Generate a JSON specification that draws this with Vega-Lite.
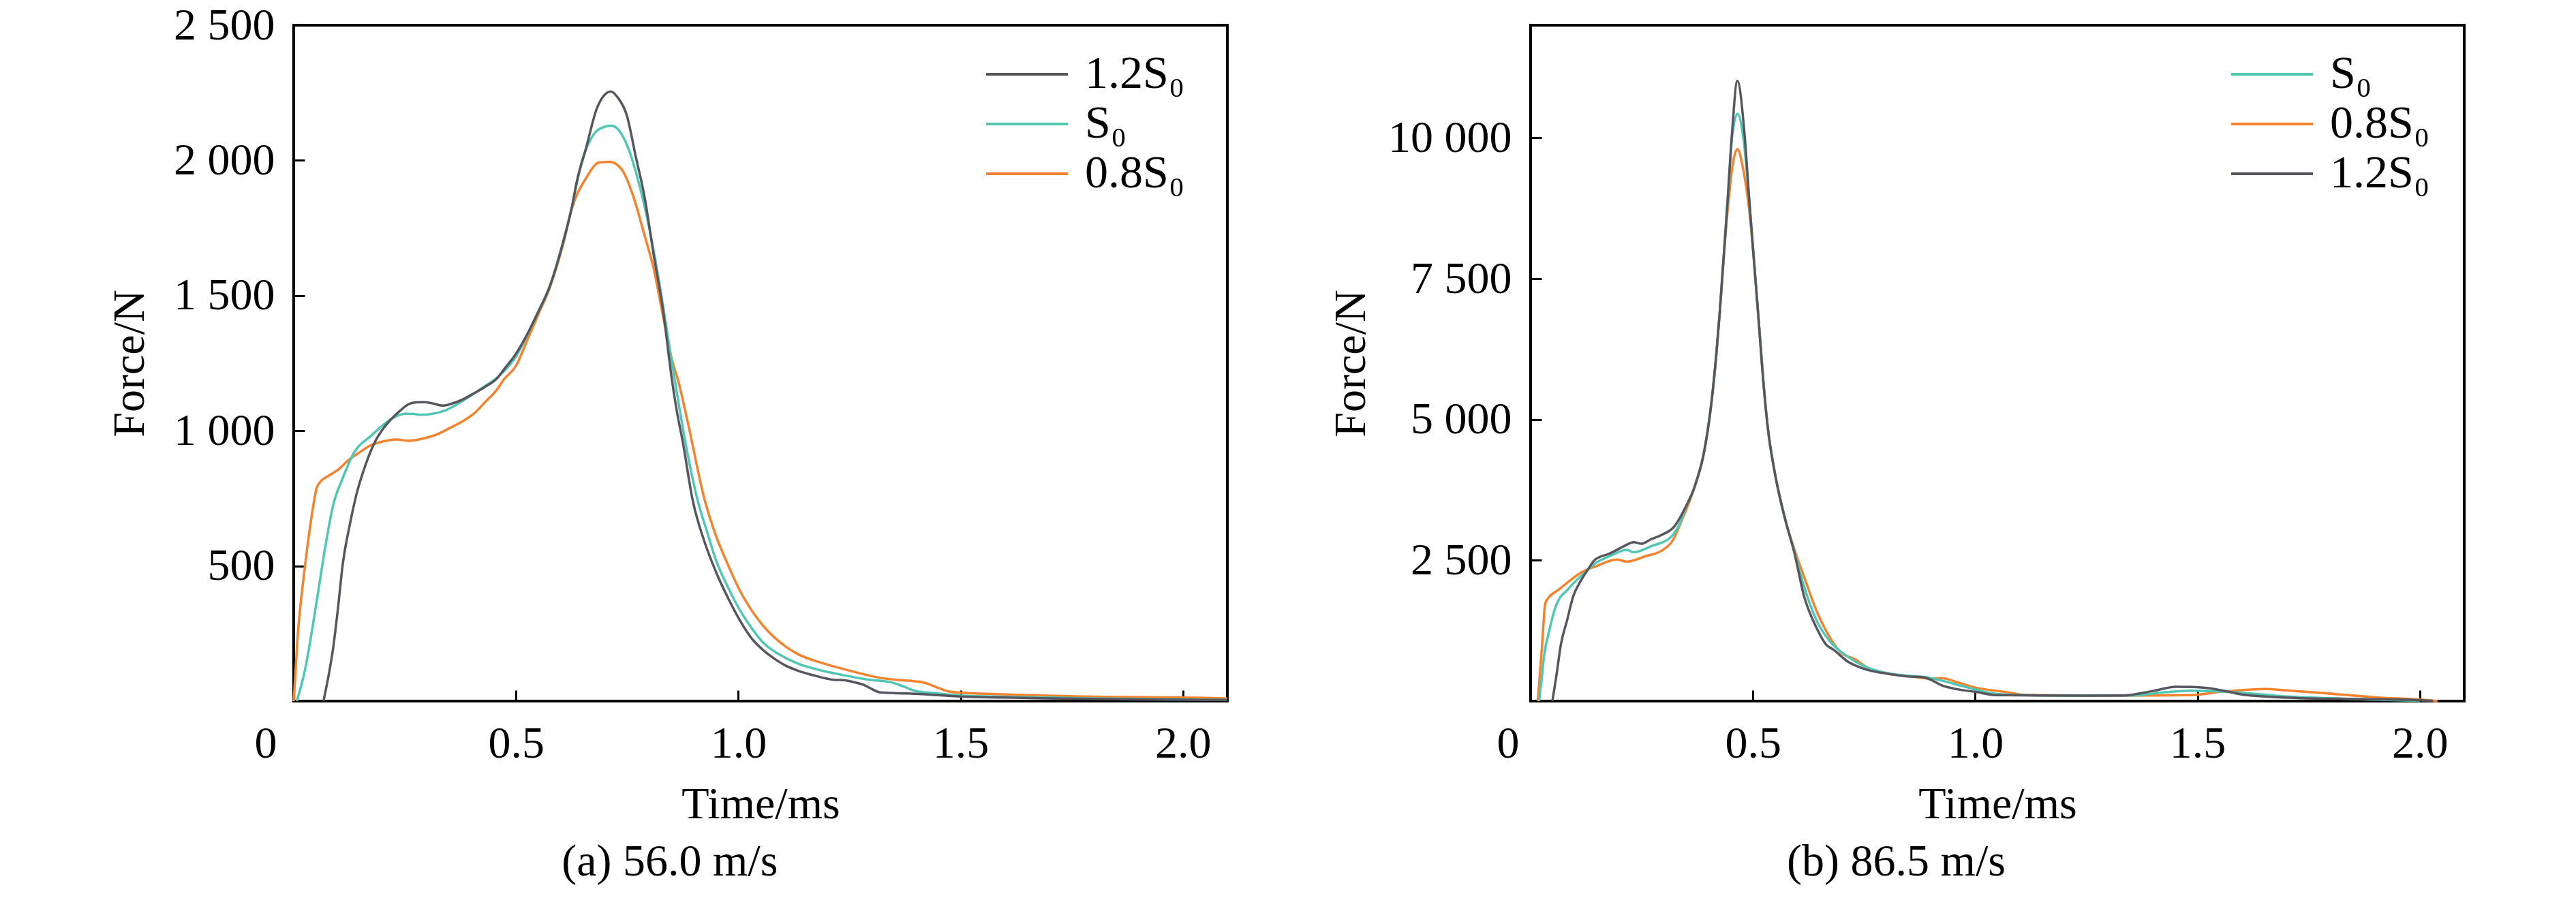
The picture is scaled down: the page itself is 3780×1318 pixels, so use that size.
{
  "$schema": "https://vega.github.io/schema/vega-lite/v6.json",
  "background": "#ffffff",
  "padding": {"left": 155, "top": 2, "right": 0, "bottom": 0},
  "spacing": 137,
  "config": {
    "font": "Liberation Serif",
    "view": {"stroke": "#000000", "strokeWidth": 4},
    "axis": {
      "domain": false,
      "grid": false,
      "ticks": true,
      "tickSize": -16,
      "tickWidth": 3,
      "tickColor": "#000000",
      "labelFont": "Liberation Serif",
      "labelFontSize": 66,
      "labelColor": "#000000",
      "labelLimit": 400,
      "titleFont": "Liberation Serif",
      "titleFontSize": 66,
      "titleFontWeight": "normal",
      "titleColor": "#000000"
    },
    "legend": {
      "orient": "none",
      "title": null,
      "symbolType": "M-1,0H5",
      "symbolSize": 1600,
      "symbolStrokeWidth": 4,
      "labelFont": "Liberation Serif",
      "labelFontSize": 68,
      "labelColor": "#000000",
      "labelOffset": 91,
      "rowPadding": 5,
      "padding": 0
    },
    "title": {
      "orient": "bottom",
      "anchor": "middle",
      "frame": "bounds",
      "font": "Liberation Serif",
      "fontSize": 66,
      "fontWeight": "normal",
      "color": "#000000",
      "offset": 20
    }
  },
  "datasets": {
    "a": [
      {"c": "0.8S₀", "t": 0, "F": 0}, {"c": "0.8S₀", "t": 0.008, "F": 220}, {"c": "0.8S₀", "t": 0.025, "F": 495}, {"c": "0.8S₀", "t": 0.04, "F": 680}, {"c": "0.8S₀", "t": 0.052, "F": 790}, {"c": "0.8S₀", "t": 0.058, "F": 807}, {"c": "0.8S₀", "t": 0.08, "F": 835}, {"c": "0.8S₀", "t": 0.099, "F": 855}, {"c": "0.8S₀", "t": 0.125, "F": 894}, {"c": "0.8S₀", "t": 0.15, "F": 922}, {"c": "0.8S₀", "t": 0.173, "F": 946}, {"c": "0.8S₀", "t": 0.2, "F": 960}, {"c": "0.8S₀", "t": 0.231, "F": 968}, {"c": "0.8S₀", "t": 0.257, "F": 963}, {"c": "0.8S₀", "t": 0.294, "F": 972}, {"c": "0.8S₀", "t": 0.32, "F": 985}, {"c": "0.8S₀", "t": 0.352, "F": 1011}, {"c": "0.8S₀", "t": 0.38, "F": 1035}, {"c": "0.8S₀", "t": 0.405, "F": 1063}, {"c": "0.8S₀", "t": 0.43, "F": 1105}, {"c": "0.8S₀", "t": 0.458, "F": 1154}, {"c": "0.8S₀", "t": 0.473, "F": 1190}, {"c": "0.8S₀", "t": 0.5, "F": 1240}, {"c": "0.8S₀", "t": 0.524, "F": 1330}, {"c": "0.8S₀", "t": 0.55, "F": 1430}, {"c": "0.8S₀", "t": 0.575, "F": 1525}, {"c": "0.8S₀", "t": 0.606, "F": 1690}, {"c": "0.8S₀", "t": 0.626, "F": 1824}, {"c": "0.8S₀", "t": 0.657, "F": 1933}, {"c": "0.8S₀", "t": 0.687, "F": 1992}, {"c": "0.8S₀", "t": 0.711, "F": 1995}, {"c": "0.8S₀", "t": 0.738, "F": 1966}, {"c": "0.8S₀", "t": 0.764, "F": 1866}, {"c": "0.8S₀", "t": 0.789, "F": 1723}, {"c": "0.8S₀", "t": 0.81, "F": 1597}, {"c": "0.8S₀", "t": 0.83, "F": 1429}, {"c": "0.8S₀", "t": 0.851, "F": 1261}, {"c": "0.8S₀", "t": 0.866, "F": 1177}, {"c": "0.8S₀", "t": 0.887, "F": 1026}, {"c": "0.8S₀", "t": 0.924, "F": 746}, {"c": "0.8S₀", "t": 0.95, "F": 610}, {"c": "0.8S₀", "t": 0.977, "F": 503}, {"c": "0.8S₀", "t": 1.003, "F": 410}, {"c": "0.8S₀", "t": 1.029, "F": 338}, {"c": "0.8S₀", "t": 1.055, "F": 280}, {"c": "0.8S₀", "t": 1.082, "F": 234}, {"c": "0.8S₀", "t": 1.108, "F": 200}, {"c": "0.8S₀", "t": 1.135, "F": 173}, {"c": "0.8S₀", "t": 1.19, "F": 140}, {"c": "0.8S₀", "t": 1.24, "F": 117}, {"c": "0.8S₀", "t": 1.28, "F": 100}, {"c": "0.8S₀", "t": 1.319, "F": 86}, {"c": "0.8S₀", "t": 1.36, "F": 78}, {"c": "0.8S₀", "t": 1.398, "F": 73}, {"c": "0.8S₀", "t": 1.418, "F": 68}, {"c": "0.8S₀", "t": 1.445, "F": 52}, {"c": "0.8S₀", "t": 1.472, "F": 36}, {"c": "0.8S₀", "t": 1.51, "F": 30}, {"c": "0.8S₀", "t": 1.556, "F": 27}, {"c": "0.8S₀", "t": 1.65, "F": 22}, {"c": "0.8S₀", "t": 1.75, "F": 18}, {"c": "0.8S₀", "t": 1.85, "F": 15}, {"c": "0.8S₀", "t": 1.95, "F": 14}, {"c": "0.8S₀", "t": 2.05, "F": 12}, {"c": "0.8S₀", "t": 2.1, "F": 10},
      {"c": "S₀", "t": 0.007, "F": 0}, {"c": "S₀", "t": 0.025, "F": 113}, {"c": "S₀", "t": 0.052, "F": 373}, {"c": "S₀", "t": 0.073, "F": 590}, {"c": "S₀", "t": 0.088, "F": 720}, {"c": "S₀", "t": 0.11, "F": 824}, {"c": "S₀", "t": 0.136, "F": 920}, {"c": "S₀", "t": 0.173, "F": 980}, {"c": "S₀", "t": 0.2, "F": 1020}, {"c": "S₀", "t": 0.226, "F": 1050}, {"c": "S₀", "t": 0.252, "F": 1063}, {"c": "S₀", "t": 0.27, "F": 1062}, {"c": "S₀", "t": 0.289, "F": 1059}, {"c": "S₀", "t": 0.31, "F": 1062}, {"c": "S₀", "t": 0.342, "F": 1076}, {"c": "S₀", "t": 0.37, "F": 1100}, {"c": "S₀", "t": 0.405, "F": 1137}, {"c": "S₀", "t": 0.43, "F": 1165}, {"c": "S₀", "t": 0.458, "F": 1197}, {"c": "S₀", "t": 0.473, "F": 1220}, {"c": "S₀", "t": 0.5, "F": 1275}, {"c": "S₀", "t": 0.524, "F": 1350}, {"c": "S₀", "t": 0.55, "F": 1440}, {"c": "S₀", "t": 0.575, "F": 1530}, {"c": "S₀", "t": 0.606, "F": 1698}, {"c": "S₀", "t": 0.626, "F": 1830}, {"c": "S₀", "t": 0.646, "F": 1983}, {"c": "S₀", "t": 0.677, "F": 2101}, {"c": "S₀", "t": 0.695, "F": 2122}, {"c": "S₀", "t": 0.715, "F": 2128}, {"c": "S₀", "t": 0.749, "F": 2059}, {"c": "S₀", "t": 0.779, "F": 1899}, {"c": "S₀", "t": 0.8, "F": 1748}, {"c": "S₀", "t": 0.83, "F": 1470}, {"c": "S₀", "t": 0.85, "F": 1258}, {"c": "S₀", "t": 0.871, "F": 1049}, {"c": "S₀", "t": 0.89, "F": 880}, {"c": "S₀", "t": 0.908, "F": 746}, {"c": "S₀", "t": 0.93, "F": 625}, {"c": "S₀", "t": 0.95, "F": 520}, {"c": "S₀", "t": 0.977, "F": 420}, {"c": "S₀", "t": 1.003, "F": 338}, {"c": "S₀", "t": 1.03, "F": 270}, {"c": "S₀", "t": 1.056, "F": 216}, {"c": "S₀", "t": 1.095, "F": 170}, {"c": "S₀", "t": 1.135, "F": 138}, {"c": "S₀", "t": 1.19, "F": 112}, {"c": "S₀", "t": 1.24, "F": 95}, {"c": "S₀", "t": 1.29, "F": 80}, {"c": "S₀", "t": 1.345, "F": 69}, {"c": "S₀", "t": 1.37, "F": 55}, {"c": "S₀", "t": 1.398, "F": 38}, {"c": "S₀", "t": 1.45, "F": 28}, {"c": "S₀", "t": 1.498, "F": 21}, {"c": "S₀", "t": 1.6, "F": 16}, {"c": "S₀", "t": 1.7, "F": 13}, {"c": "S₀", "t": 1.8, "F": 10}, {"c": "S₀", "t": 1.9, "F": 8}, {"c": "S₀", "t": 2.0, "F": 6}, {"c": "S₀", "t": 2.1, "F": 5},
      {"c": "1.2S₀", "t": 0.067, "F": 0}, {"c": "1.2S₀", "t": 0.079, "F": 100}, {"c": "1.2S₀", "t": 0.089, "F": 200}, {"c": "1.2S₀", "t": 0.1, "F": 350}, {"c": "1.2S₀", "t": 0.11, "F": 503}, {"c": "1.2S₀", "t": 0.126, "F": 651}, {"c": "1.2S₀", "t": 0.141, "F": 764}, {"c": "1.2S₀", "t": 0.162, "F": 876}, {"c": "1.2S₀", "t": 0.184, "F": 963}, {"c": "1.2S₀", "t": 0.2, "F": 1005}, {"c": "1.2S₀", "t": 0.22, "F": 1044}, {"c": "1.2S₀", "t": 0.24, "F": 1075}, {"c": "1.2S₀", "t": 0.257, "F": 1097}, {"c": "1.2S₀", "t": 0.275, "F": 1105}, {"c": "1.2S₀", "t": 0.294, "F": 1106}, {"c": "1.2S₀", "t": 0.315, "F": 1100}, {"c": "1.2S₀", "t": 0.336, "F": 1093}, {"c": "1.2S₀", "t": 0.355, "F": 1100}, {"c": "1.2S₀", "t": 0.379, "F": 1115}, {"c": "1.2S₀", "t": 0.405, "F": 1138}, {"c": "1.2S₀", "t": 0.431, "F": 1163}, {"c": "1.2S₀", "t": 0.458, "F": 1195}, {"c": "1.2S₀", "t": 0.473, "F": 1227}, {"c": "1.2S₀", "t": 0.5, "F": 1285}, {"c": "1.2S₀", "t": 0.524, "F": 1353}, {"c": "1.2S₀", "t": 0.55, "F": 1440}, {"c": "1.2S₀", "t": 0.575, "F": 1530}, {"c": "1.2S₀", "t": 0.606, "F": 1698}, {"c": "1.2S₀", "t": 0.626, "F": 1830}, {"c": "1.2S₀", "t": 0.636, "F": 1916}, {"c": "1.2S₀", "t": 0.657, "F": 2042}, {"c": "1.2S₀", "t": 0.682, "F": 2193}, {"c": "1.2S₀", "t": 0.698, "F": 2240}, {"c": "1.2S₀", "t": 0.713, "F": 2255}, {"c": "1.2S₀", "t": 0.73, "F": 2230}, {"c": "1.2S₀", "t": 0.749, "F": 2168}, {"c": "1.2S₀", "t": 0.769, "F": 2017}, {"c": "1.2S₀", "t": 0.789, "F": 1866}, {"c": "1.2S₀", "t": 0.81, "F": 1647}, {"c": "1.2S₀", "t": 0.83, "F": 1454}, {"c": "1.2S₀", "t": 0.851, "F": 1185}, {"c": "1.2S₀", "t": 0.862, "F": 1070}, {"c": "1.2S₀", "t": 0.875, "F": 960}, {"c": "1.2S₀", "t": 0.897, "F": 746}, {"c": "1.2S₀", "t": 0.924, "F": 589}, {"c": "1.2S₀", "t": 0.95, "F": 477}, {"c": "1.2S₀", "t": 0.977, "F": 381}, {"c": "1.2S₀", "t": 1.003, "F": 300}, {"c": "1.2S₀", "t": 1.029, "F": 234}, {"c": "1.2S₀", "t": 1.055, "F": 190}, {"c": "1.2S₀", "t": 1.082, "F": 156}, {"c": "1.2S₀", "t": 1.108, "F": 130}, {"c": "1.2S₀", "t": 1.135, "F": 112}, {"c": "1.2S₀", "t": 1.17, "F": 95}, {"c": "1.2S₀", "t": 1.214, "F": 79}, {"c": "1.2S₀", "t": 1.24, "F": 77}, {"c": "1.2S₀", "t": 1.26, "F": 70}, {"c": "1.2S₀", "t": 1.282, "F": 60}, {"c": "1.2S₀", "t": 1.3, "F": 45}, {"c": "1.2S₀", "t": 1.319, "F": 32}, {"c": "1.2S₀", "t": 1.36, "F": 29}, {"c": "1.2S₀", "t": 1.398, "F": 27}, {"c": "1.2S₀", "t": 1.45, "F": 22}, {"c": "1.2S₀", "t": 1.498, "F": 17}, {"c": "1.2S₀", "t": 1.6, "F": 13}, {"c": "1.2S₀", "t": 1.7, "F": 10}, {"c": "1.2S₀", "t": 1.8, "F": 8}, {"c": "1.2S₀", "t": 1.9, "F": 6}, {"c": "1.2S₀", "t": 2.0, "F": 5}, {"c": "1.2S₀", "t": 2.1, "F": 4}
    ],
    "b": [
      {"c": "0.8S₀", "t": 0.016, "F": 0}, {"c": "0.8S₀", "t": 0.025, "F": 900}, {"c": "0.8S₀", "t": 0.033, "F": 1734}, {"c": "0.8S₀", "t": 0.041, "F": 1843}, {"c": "0.8S₀", "t": 0.06, "F": 1960}, {"c": "0.8S₀", "t": 0.079, "F": 2080}, {"c": "0.8S₀", "t": 0.112, "F": 2275}, {"c": "0.8S₀", "t": 0.15, "F": 2404}, {"c": "0.8S₀", "t": 0.194, "F": 2512}, {"c": "0.8S₀", "t": 0.216, "F": 2477}, {"c": "0.8S₀", "t": 0.26, "F": 2577}, {"c": "0.8S₀", "t": 0.293, "F": 2663}, {"c": "0.8S₀", "t": 0.32, "F": 2857}, {"c": "0.8S₀", "t": 0.342, "F": 3246}, {"c": "0.8S₀", "t": 0.369, "F": 3808}, {"c": "0.8S₀", "t": 0.391, "F": 4456}, {"c": "0.8S₀", "t": 0.407, "F": 5320}, {"c": "0.8S₀", "t": 0.418, "F": 6184}, {"c": "0.8S₀", "t": 0.425, "F": 6858}, {"c": "0.8S₀", "t": 0.443, "F": 8700}, {"c": "0.8S₀", "t": 0.454, "F": 9500}, {"c": "0.8S₀", "t": 0.465, "F": 9800}, {"c": "0.8S₀", "t": 0.478, "F": 9450}, {"c": "0.8S₀", "t": 0.492, "F": 8700}, {"c": "0.8S₀", "t": 0.512, "F": 6858}, {"c": "0.8S₀", "t": 0.525, "F": 5536}, {"c": "0.8S₀", "t": 0.533, "F": 4888}, {"c": "0.8S₀", "t": 0.55, "F": 4024}, {"c": "0.8S₀", "t": 0.572, "F": 3246}, {"c": "0.8S₀", "t": 0.593, "F": 2700}, {"c": "0.8S₀", "t": 0.615, "F": 2210}, {"c": "0.8S₀", "t": 0.643, "F": 1605}, {"c": "0.8S₀", "t": 0.67, "F": 1173}, {"c": "0.8S₀", "t": 0.697, "F": 871}, {"c": "0.8S₀", "t": 0.73, "F": 741}, {"c": "0.8S₀", "t": 0.763, "F": 568}, {"c": "0.8S₀", "t": 0.8, "F": 490}, {"c": "0.8S₀", "t": 0.85, "F": 445}, {"c": "0.8S₀", "t": 0.9, "F": 400}, {"c": "0.8S₀", "t": 0.923, "F": 407}, {"c": "0.8S₀", "t": 0.964, "F": 323}, {"c": "0.8S₀", "t": 1.0, "F": 240}, {"c": "0.8S₀", "t": 1.065, "F": 165}, {"c": "0.8S₀", "t": 1.12, "F": 105}, {"c": "0.8S₀", "t": 1.25, "F": 98}, {"c": "0.8S₀", "t": 1.4, "F": 100}, {"c": "0.8S₀", "t": 1.485, "F": 105}, {"c": "0.8S₀", "t": 1.553, "F": 165}, {"c": "0.8S₀", "t": 1.653, "F": 214}, {"c": "0.8S₀", "t": 1.7, "F": 190}, {"c": "0.8S₀", "t": 1.779, "F": 145}, {"c": "0.8S₀", "t": 1.905, "F": 65}, {"c": "0.8S₀", "t": 2.006, "F": 24}, {"c": "0.8S₀", "t": 2.04, "F": 0},
      {"c": "S₀", "t": 0.019, "F": 0}, {"c": "S₀", "t": 0.025, "F": 400}, {"c": "S₀", "t": 0.03, "F": 785}, {"c": "S₀", "t": 0.041, "F": 1217}, {"c": "S₀", "t": 0.057, "F": 1692}, {"c": "S₀", "t": 0.085, "F": 1994}, {"c": "S₀", "t": 0.118, "F": 2253}, {"c": "S₀", "t": 0.15, "F": 2469}, {"c": "S₀", "t": 0.18, "F": 2580}, {"c": "S₀", "t": 0.216, "F": 2685}, {"c": "S₀", "t": 0.231, "F": 2642}, {"c": "S₀", "t": 0.271, "F": 2750}, {"c": "S₀", "t": 0.314, "F": 2901}, {"c": "S₀", "t": 0.336, "F": 3160}, {"c": "S₀", "t": 0.347, "F": 3400}, {"c": "S₀", "t": 0.369, "F": 3808}, {"c": "S₀", "t": 0.391, "F": 4456}, {"c": "S₀", "t": 0.407, "F": 5320}, {"c": "S₀", "t": 0.418, "F": 6184}, {"c": "S₀", "t": 0.425, "F": 6858}, {"c": "S₀", "t": 0.443, "F": 8874}, {"c": "S₀", "t": 0.453, "F": 10000}, {"c": "S₀", "t": 0.465, "F": 10426}, {"c": "S₀", "t": 0.48, "F": 9900}, {"c": "S₀", "t": 0.492, "F": 8874}, {"c": "S₀", "t": 0.512, "F": 6858}, {"c": "S₀", "t": 0.525, "F": 5536}, {"c": "S₀", "t": 0.533, "F": 4888}, {"c": "S₀", "t": 0.55, "F": 4024}, {"c": "S₀", "t": 0.572, "F": 3246}, {"c": "S₀", "t": 0.593, "F": 2660}, {"c": "S₀", "t": 0.615, "F": 2037}, {"c": "S₀", "t": 0.643, "F": 1432}, {"c": "S₀", "t": 0.675, "F": 1044}, {"c": "S₀", "t": 0.714, "F": 785}, {"c": "S₀", "t": 0.752, "F": 612}, {"c": "S₀", "t": 0.8, "F": 500}, {"c": "S₀", "t": 0.85, "F": 450}, {"c": "S₀", "t": 0.9, "F": 410}, {"c": "S₀", "t": 0.923, "F": 367}, {"c": "S₀", "t": 0.981, "F": 246}, {"c": "S₀", "t": 1.03, "F": 150}, {"c": "S₀", "t": 1.065, "F": 117}, {"c": "S₀", "t": 1.15, "F": 100}, {"c": "S₀", "t": 1.25, "F": 98}, {"c": "S₀", "t": 1.35, "F": 100}, {"c": "S₀", "t": 1.42, "F": 150}, {"c": "S₀", "t": 1.485, "F": 185}, {"c": "S₀", "t": 1.569, "F": 165}, {"c": "S₀", "t": 1.695, "F": 85}, {"c": "S₀", "t": 1.8, "F": 50}, {"c": "S₀", "t": 1.905, "F": 24}, {"c": "S₀", "t": 2.0, "F": 5},
      {"c": "1.2S₀", "t": 0.049, "F": 0}, {"c": "1.2S₀", "t": 0.058, "F": 450}, {"c": "1.2S₀", "t": 0.068, "F": 1000}, {"c": "1.2S₀", "t": 0.082, "F": 1432}, {"c": "1.2S₀", "t": 0.096, "F": 1864}, {"c": "1.2S₀", "t": 0.112, "F": 2124}, {"c": "1.2S₀", "t": 0.13, "F": 2350}, {"c": "1.2S₀", "t": 0.145, "F": 2512}, {"c": "1.2S₀", "t": 0.178, "F": 2620}, {"c": "1.2S₀", "t": 0.21, "F": 2750}, {"c": "1.2S₀", "t": 0.232, "F": 2823}, {"c": "1.2S₀", "t": 0.249, "F": 2793}, {"c": "1.2S₀", "t": 0.27, "F": 2870}, {"c": "1.2S₀", "t": 0.293, "F": 2944}, {"c": "1.2S₀", "t": 0.325, "F": 3117}, {"c": "1.2S₀", "t": 0.347, "F": 3420}, {"c": "1.2S₀", "t": 0.369, "F": 3808}, {"c": "1.2S₀", "t": 0.391, "F": 4456}, {"c": "1.2S₀", "t": 0.407, "F": 5320}, {"c": "1.2S₀", "t": 0.418, "F": 6184}, {"c": "1.2S₀", "t": 0.425, "F": 6858}, {"c": "1.2S₀", "t": 0.443, "F": 8874}, {"c": "1.2S₀", "t": 0.453, "F": 10083}, {"c": "1.2S₀", "t": 0.465, "F": 11010}, {"c": "1.2S₀", "t": 0.481, "F": 10083}, {"c": "1.2S₀", "t": 0.492, "F": 8874}, {"c": "1.2S₀", "t": 0.512, "F": 6858}, {"c": "1.2S₀", "t": 0.525, "F": 5536}, {"c": "1.2S₀", "t": 0.533, "F": 4888}, {"c": "1.2S₀", "t": 0.55, "F": 4024}, {"c": "1.2S₀", "t": 0.572, "F": 3246}, {"c": "1.2S₀", "t": 0.593, "F": 2642}, {"c": "1.2S₀", "t": 0.615, "F": 1864}, {"c": "1.2S₀", "t": 0.643, "F": 1303}, {"c": "1.2S₀", "t": 0.665, "F": 1000}, {"c": "1.2S₀", "t": 0.681, "F": 914}, {"c": "1.2S₀", "t": 0.714, "F": 698}, {"c": "1.2S₀", "t": 0.752, "F": 568}, {"c": "1.2S₀", "t": 0.807, "F": 482}, {"c": "1.2S₀", "t": 0.844, "F": 440}, {"c": "1.2S₀", "t": 0.881, "F": 427}, {"c": "1.2S₀", "t": 0.9, "F": 380}, {"c": "1.2S₀", "t": 0.923, "F": 286}, {"c": "1.2S₀", "t": 0.96, "F": 210}, {"c": "1.2S₀", "t": 1.0, "F": 165}, {"c": "1.2S₀", "t": 1.049, "F": 105}, {"c": "1.2S₀", "t": 1.15, "F": 100}, {"c": "1.2S₀", "t": 1.25, "F": 98}, {"c": "1.2S₀", "t": 1.334, "F": 100}, {"c": "1.2S₀", "t": 1.4, "F": 180}, {"c": "1.2S₀", "t": 1.452, "F": 254}, {"c": "1.2S₀", "t": 1.49, "F": 250}, {"c": "1.2S₀", "t": 1.528, "F": 226}, {"c": "1.2S₀", "t": 1.57, "F": 165}, {"c": "1.2S₀", "t": 1.611, "F": 105}, {"c": "1.2S₀", "t": 1.737, "F": 52}, {"c": "1.2S₀", "t": 1.85, "F": 38}, {"c": "1.2S₀", "t": 1.973, "F": 24}, {"c": "1.2S₀", "t": 2.03, "F": 5}
    ]
  },
  "resolve": {"scale": {"color": "independent", "x": "independent", "y": "independent"}, "legend": {"color": "independent"}},
  "hconcat": [
    {
      "width": 1370,
      "height": 992,
      "title": {"text": "(a) 56.0 m/s"},
      "data": {"name": "a"},
      "mark": {"type": "line", "strokeWidth": 3.5, "interpolate": "monotone"},
      "encoding": {
        "x": {
          "field": "t",
          "type": "quantitative",
          "scale": {"domain": [0, 2.1], "nice": false, "zero": false},
          "axis": {
            "title": "Time/ms",
            "values": [0, 0.5, 1, 1.5, 2],
            "labelExpr": "datum.value == 0 ? '0' : format(datum.value, '.1f')",
            "labelOffset": {"condition": {"test": "datum.value == 0", "value": -58}, "value": 0},
            "labelPadding": 46,
            "titlePadding": 24
          }
        },
        "y": {
          "field": "F",
          "type": "quantitative",
          "scale": {"domain": [0, 2500], "nice": false},
          "axis": {
            "title": "Force/N",
            "values": [500, 1000, 1500, 2000, 2500],
            "labelExpr": "replace(format(datum.value, ','), ',', ' ')",
            "labelPadding": 44,
            "titlePadding": 30
          }
        },
        "color": {
          "field": "c",
          "type": "nominal",
          "scale": {"domain": ["1.2S₀", "S₀", "0.8S₀"], "range": ["#56565e", "#4fc7b4", "#f5822c"]},
          "legend": {"legendX": 1002, "legendY": 38}
        }
      }
    },
    {
      "width": 1370,
      "height": 992,
      "title": {"text": "(b) 86.5 m/s"},
      "data": {"name": "b"},
      "mark": {"type": "line", "strokeWidth": 3.5, "interpolate": "monotone"},
      "encoding": {
        "x": {
          "field": "t",
          "type": "quantitative",
          "scale": {"domain": [0, 2.1], "nice": false, "zero": false},
          "axis": {
            "title": "Time/ms",
            "values": [0, 0.5, 1, 1.5, 2],
            "labelExpr": "datum.value == 0 ? '0' : format(datum.value, '.1f')",
            "labelOffset": {"condition": {"test": "datum.value == 0", "value": -50}, "value": 0},
            "labelPadding": 46,
            "titlePadding": 24
          }
        },
        "y": {
          "field": "F",
          "type": "quantitative",
          "scale": {"domain": [0, 12000], "nice": false},
          "axis": {
            "title": "Force/N",
            "values": [2500, 5000, 7500, 10000],
            "labelExpr": "replace(format(datum.value, ','), ',', ' ')",
            "labelPadding": 44,
            "titlePadding": 30
          }
        },
        "color": {
          "field": "c",
          "type": "nominal",
          "scale": {"domain": ["S₀", "0.8S₀", "1.2S₀"], "range": ["#4fc7b4", "#f5822c", "#56565e"]},
          "legend": {"legendX": 1014, "legendY": 38}
        }
      }
    }
  ]
}
